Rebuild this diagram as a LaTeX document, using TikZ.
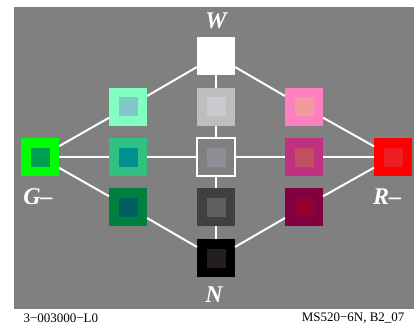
\documentclass[tikz,border=0pt]{standalone}
\usepackage{fontspec}
\setmainfont{Liberation Serif}
\usetikzlibrary{positioning}

\definecolor{gGreen}{HTML}{00FF00}
\definecolor{gGreenIn}{HTML}{00A050}
\definecolor{gwOut}{HTML}{80FFC0}
\definecolor{gwIn}{HTML}{80C8C8}
\definecolor{gmOut}{HTML}{30C080}
\definecolor{gmIn}{HTML}{009090}
\definecolor{gnOut}{HTML}{008040}
\definecolor{gnIn}{HTML}{006060}
\definecolor{rRed}{HTML}{FF0000}
\definecolor{rRedIn}{HTML}{F01C24}
\definecolor{rwOut}{HTML}{FF80C0}
\definecolor{rwIn}{HTML}{F09C9C}
\definecolor{rmOut}{HTML}{C03080}
\definecolor{rmIn}{HTML}{C05060}
\definecolor{rnOut}{HTML}{800040}
\definecolor{rnIn}{HTML}{900030}
\definecolor{cwOut}{HTML}{BEBEBE}
\definecolor{cwIn}{HTML}{C8CACD}
\definecolor{cmIn}{HTML}{8E8F94}
\definecolor{cnOut}{HTML}{404040}
\definecolor{cnIn}{HTML}{606060}
\definecolor{nIn}{HTML}{231F20}

\tikzset{
  patch/.style={minimum size=38pt, inner sep=0pt, outer sep=0pt},
  core/.style={minimum size=19pt, inner sep=0pt, outer sep=0pt},
  link/.style={draw=white, line width=2pt},
  corner/.style={text=white, font=\fontsize{24}{24}\selectfont\bfseries\itshape},
  foot/.style={font=\fontsize{13}{13}\selectfont}
}

\begin{document}
\begin{tikzpicture}[x=1pt,y=-1pt]

\useasboundingbox (0,0) rectangle (414,331);
\fill[gray] (14,7) rectangle (414,309);

% white to black column
\node[patch, fill=white] (w) at (216,56) {};
\node[patch, fill=cwOut] (cw) at (216,107) {};
\node[core, fill=cwIn] at (cw) {};
\node[patch, fill=gray, draw=white, line width=2pt] (cm) at (216,157) {};
\node[core, fill=cmIn] at (cm) {};
\node[patch, fill=cnOut] (cn) at (216,207) {};
\node[core, fill=cnIn] at (cn) {};
\node[patch, fill=black] (n) at (216,258) {};
\node[core, fill=nIn] at (n) {};

% green side
\node[patch, fill=gGreen] (g) at (40,157) {};
\node[core, fill=gGreenIn] at (g) {};
\node[patch, fill=gwOut] (gw) at (128,107) {};
\node[core, fill=gwIn] at (gw) {};
\node[patch, fill=gmOut] (gm) at (128,157) {};
\node[core, fill=gmIn] at (gm) {};
\node[patch, fill=gnOut] (gn) at (128,207) {};
\node[core, fill=gnIn] at (gn) {};

% red side
\node[patch, fill=rRed] (r) at (393,157) {};
\node[core, fill=rRedIn] at (r) {};
\node[patch, fill=rwOut] (rw) at (304,107) {};
\node[core, fill=rwIn] at (rw) {};
\node[patch, fill=rmOut] (rm) at (304,157) {};
\node[core, fill=rmIn] at (rm) {};
\node[patch, fill=rnOut] (rn) at (304,207) {};
\node[core, fill=rnIn] at (rn) {};

\draw[link] (w) -- (gw) -- (g);
\draw[link] (w) -- (rw) -- (r);
\draw[link] (g) -- (gn) -- (n);
\draw[link] (r) -- (rn) -- (n);
\draw[link] (g) -- (gm) -- (cm) -- (rm) -- (r);
\draw[link] (w) -- (cw) -- (cm) -- (cn) -- (n);

\node[corner] (lw) at (216,21) {W};
\node[corner] (ln) at (214,295) {N};
\node[corner] (lg) at (38,197) {G–};
\node[corner] (lr) at (387,197) {R–};

\node[foot, anchor=west] (code) at (20,318) {3−003000−L0};
\node[foot, anchor=east] (ref) at (408,318) {MS520−6N, B2\_07};

\end{tikzpicture}
\end{document}
